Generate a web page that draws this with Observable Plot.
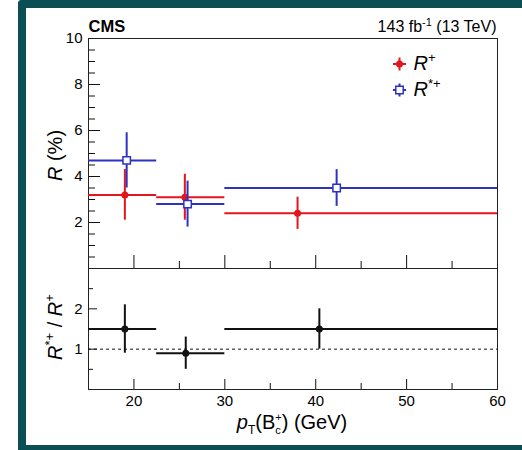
<!DOCTYPE html>
<html><head><meta charset="utf-8">
<script src="https://cdn.jsdelivr.net/npm/d3@7"></script>
<script src="https://cdn.jsdelivr.net/npm/@observablehq/plot@0.6"></script>
<style>
html,body{margin:0;padding:0;background:#fff;}
#page{position:relative;width:522px;height:450px;overflow:hidden;background:#fff;}
#border{position:absolute;left:18px;top:0;width:504px;height:450px;box-sizing:border-box;border-left:8px solid #0b4e54;border-top:8px solid #0b4e54;border-bottom:5px solid #0b4e54;border-top-left-radius:4px;background:#fff;}
#page svg{position:absolute;left:0;top:0;}
</style></head><body><div id="page"><div id="border"></div></div>
<script>
// ---- data ----
const binLo = [15, 22.5, 30];
const binHi = [22.5, 30, 60];
const rPlusX = [19.0, 25.6, 38.0];
const rPlus = [3.2, 3.1, 2.4];
const rPlusLo = [2.1, 2.1, 1.7];
const rPlusHi = [4.3, 4.1, 3.1];
const rStarX = [19.2, 25.9, 42.3];
const rStar = [4.7, 2.8, 3.5];
const rStarLo = [3.5, 1.8, 2.7];
const rStarHi = [5.9, 3.8, 4.3];
const ratioX = [19.0, 25.7, 40.4];
const ratio = [1.5, 0.9, 1.5];
const ratioLo = [0.9, 0.5, 1.0];
const ratioHi = [2.1, 1.3, 2.0];
const refLine = [1];

const xMajor = [20, 30, 40, 50, 60];
const xMinor = [25, 35, 45, 55];
const yTopMajor = [2, 4, 6, 8, 10];
const yTopMinor = [0.5, 1, 1.5, 2.5, 3, 3.5, 4.5, 5, 5.5, 6.5, 7, 7.5, 8.5, 9, 9.5];
const yBotMajor = [1, 2];
const yBotMinor = [0.5, 1.5, 2.5];

const cmsLabel = "CMS";
const lumiLabel = "143 fb-1 (13 TeV)";
const legendLabels = ["R+", "R*+"];
const yTopLabel = "R (%)";
const yBotLabel = "R*+ / R+";
const xLabel = "pT(Bc+) (GeV)";

// ---- styles / layout ----
const red = "#e3161d", blue = "#2c33c4", ink = "#111";
const W = 522, H = 450;
const M = {left: 88, right: 25, top: 38, mid: 268, bottom: 61};
const areaW = W - M.left - M.right;
const topH = M.mid - M.top;
const botH = H - M.bottom - M.mid;
const font = "'Liberation Sans', Arial, Helvetica, sans-serif";

const rows = binLo.map((lo, i) => ({
  lo, hi: binHi[i],
  px: rPlusX[i], p: rPlus[i], pLo: rPlusLo[i], pHi: rPlusHi[i],
  sx: rStarX[i], s: rStar[i], sLo: rStarLo[i], sHi: rStarHi[i],
  qx: ratioX[i], q: ratio[i], qLo: ratioLo[i], qHi: ratioHi[i]
}));

const legendColors = [red, blue];
const legendMarks = legendLabels.flatMap((lab, i) => {
  const dy = 25.5 + i * 26;
  const marker = i === 0
    ? Plot.dot([0], {x: null, y: null, frameAnchor: "top-right", dx: -98, dy, r: 3.5, fill: red})
    : Plot.dot([0], {x: null, y: null, frameAnchor: "top-right", dx: -98, dy, symbol: "square", r: 4.2, fill: "white", stroke: blue, strokeWidth: 1.5});
  return [
    Plot.dot([0], {x: null, y: null, frameAnchor: "top-right", dx: -98, dy, symbol: "plus", r: 4.3, stroke: legendColors[i], strokeWidth: 2, fill: "none"}),
    marker,
    Plot.text([lab], {x: null, y: null, frameAnchor: "top-right", dx: -84, dy: dy + 6, text: d => d, textAnchor: "start", lineAnchor: "bottom", fontSize: 20, fill: "#000"})
  ];
});

const upper = Plot.plot({
  width: W, height: H,
  marginLeft: M.left, marginRight: M.right, marginTop: M.top, marginBottom: H - M.mid,
  x: {domain: [15, 60], axis: null},
  y: {domain: [0, 10]},
  style: {background: "transparent", fontFamily: font, color: "#000"},
  marks: [
    Plot.ruleY(yTopMajor, {insetRight: areaW - 12, stroke: ink}),
    Plot.ruleY(yTopMinor, {insetRight: areaW - 7, stroke: ink}),
    Plot.ruleX(xMajor, {insetTop: topH - 13, stroke: ink}),
    Plot.ruleX(xMinor, {insetTop: topH - 7, stroke: ink}),
    Plot.axisY(yTopMajor, {tickSize: 0, tickPadding: 6, fontSize: 15, label: null}),
    Plot.frame({stroke: "#222"}),
    Plot.ruleY(rows, {x1: "lo", x2: "hi", y: "p", stroke: red, strokeWidth: 2}),
    Plot.ruleX(rows, {x: "px", y1: "pLo", y2: "pHi", stroke: red, strokeWidth: 2}),
    Plot.dot(rows, {x: "px", y: "p", r: 3.5, fill: red}),
    Plot.ruleY(rows, {x1: "lo", x2: "hi", y: "s", stroke: blue, strokeWidth: 2}),
    Plot.ruleX(rows, {x: "sx", y1: "sLo", y2: "sHi", stroke: blue, strokeWidth: 2}),
    Plot.dot(rows, {x: "sx", y: "s", symbol: "square", r: 4.2, fill: "white", stroke: blue, strokeWidth: 1.5}),
    ...legendMarks,
    Plot.text([cmsLabel], {x: null, y: null, frameAnchor: "top-left", dy: -7, text: d => d, textAnchor: "start", lineAnchor: "bottom", fontSize: 16.5, fontWeight: "bold", fill: "#000"}),
    Plot.text([lumiLabel], {x: null, y: null, frameAnchor: "top-right", dx: -1, dy: -7, text: d => d, textAnchor: "end", lineAnchor: "bottom", fontSize: 16, fill: "#000"}),
    Plot.text([yTopLabel], {x: null, y: null, frameAnchor: "left", dx: -27, dy: 2, rotate: -90, text: d => d, textAnchor: "middle", lineAnchor: "bottom", fontSize: 20, fill: "#000"})
  ]
});

const lower = Plot.plot({
  width: W, height: H,
  marginLeft: M.left, marginRight: M.right, marginTop: M.mid, marginBottom: M.bottom,
  x: {domain: [15, 60]},
  y: {domain: [0, 3]},
  style: {background: "transparent", fontFamily: font, color: "#000"},
  marks: [
    Plot.ruleY(yBotMajor, {insetRight: areaW - 9, stroke: ink}),
    Plot.ruleY(yBotMinor, {insetRight: areaW - 5, stroke: ink}),
    Plot.ruleX(xMajor, {insetTop: botH - 10, stroke: ink}),
    Plot.ruleX(xMinor, {insetTop: botH - 6, stroke: ink}),
    Plot.axisY(yBotMajor, {tickSize: 0, tickPadding: 6, fontSize: 15, label: null}),
    Plot.axisX(xMajor, {tickSize: 0, tickPadding: 6, fontSize: 15, label: null}),
    Plot.frame({stroke: "#222"}),
    Plot.ruleY(refLine, {stroke: ink, strokeWidth: 1, strokeDasharray: "3,3"}),
    Plot.ruleY(rows, {x1: "lo", x2: "hi", y: "q", stroke: ink, strokeWidth: 2}),
    Plot.ruleX(rows, {x: "qx", y1: "qLo", y2: "qHi", stroke: ink, strokeWidth: 2}),
    Plot.dot(rows, {x: "qx", y: "q", r: 3.5, fill: ink}),
    Plot.text([yBotLabel], {x: null, y: null, frameAnchor: "left", dx: -27, dy: -2, rotate: -90, text: d => d, textAnchor: "middle", lineAnchor: "bottom", fontSize: 20, fill: "#000"}),
    Plot.text([xLabel], {x: null, y: null, frameAnchor: "bottom", dx: -1, dy: 39, text: d => d, textAnchor: "middle", lineAnchor: "bottom", fontSize: 20, fill: "#000"})
  ]
});

const page = document.getElementById("page");
page.appendChild(upper);
page.appendChild(lower);

function rich(svg, plain, parts) {
  d3.select(svg).selectAll("text").filter(function() { return this.textContent === plain; }).each(function() {
    const t = d3.select(this);
    t.text(null);
    for (const p of parts) {
      const s = t.append("tspan").text(p.t);
      if (p.i) s.attr("font-style", "italic");
      if (p.fs) s.attr("font-size", p.fs);
      if (p.dy) s.attr("dy", p.dy);
      if (p.dx) s.attr("dx", p.dx);
    }
  });
}
rich(upper, lumiLabel, [{t: "143 fb"}, {t: "-1", fs: 11, dy: -6}, {t: " (13 TeV)", dy: 6}]);
rich(upper, legendLabels[0], [{t: "R", i: true}, {t: "+", fs: 13, dy: -8}]);
rich(upper, legendLabels[1], [{t: "R", i: true}, {t: "*+", fs: 13, dy: -8}]);
rich(upper, yTopLabel, [{t: "R", i: true}, {t: " (%)"}]);
rich(lower, yBotLabel, [{t: "R", i: true}, {t: "*+", fs: 13, dy: -8}, {t: " / ", dy: 8}, {t: "R", i: true}, {t: "+", fs: 13, dy: -8}]);
rich(lower, xLabel, [{t: "p", i: true}, {t: "T", fs: 12, dy: 5}, {t: "(B", dy: -5}, {t: "+", fs: 11, dy: -8}, {t: "c", fs: 11, dx: -6.5, dy: 13.5}, {t: ") (GeV)", dx: 1, dy: -5.5}]);
</script></body></html>
